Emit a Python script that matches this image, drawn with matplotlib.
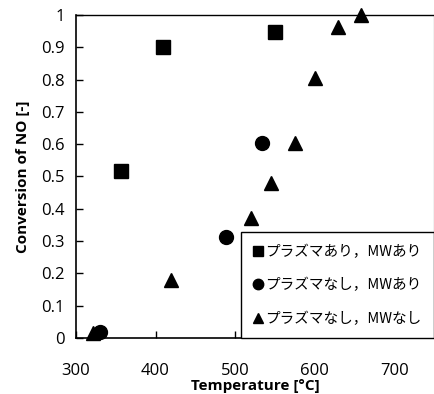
import matplotlib

matplotlib.use("Agg")
import matplotlib.pyplot as plt

# plasma on, MW on
sq_x = [357, 409, 550]
sq_y = [0.517, 0.90, 0.947]
# plasma off, MW on
ci_x = [330, 489, 534]
ci_y = [0.02, 0.313, 0.604]
# plasma off, MW off
tr_x = [321, 420, 520, 545, 575, 600, 629, 658]
tr_y = [0.015, 0.18, 0.372, 0.48, 0.603, 0.805, 0.963, 1.0]

labels = ["プラズマあり，MWあり", "プラズマなし，MWあり", "プラズマなし，MWなし"]

TICK_FONT = "Open Sans"
JP_FONT = ["Noto Sans CJK JP", "DejaVu Sans"]

fig = plt.figure(figsize=(4.35, 3.94), dpi=100)
ax = fig.add_axes([0.1747, 0.1421, 0.823, 0.82])

ax.plot(sq_x, sq_y, "s", color="black", ms=10, clip_on=False, zorder=3, label=labels[0])
ax.plot(ci_x, ci_y, "o", color="black", ms=10, clip_on=False, zorder=3, label=labels[1])
ax.plot(tr_x, tr_y, "^", color="black", ms=10, clip_on=False, zorder=3, label=labels[2])

ax.set_xlim(300, 750)
ax.set_ylim(0, 1)
ax.set_xticks([300, 400, 500, 600, 700])
ax.set_yticks([i / 10 for i in range(11)])
ax.set_yticklabels(["0"] + [f"{i / 10:.1f}" for i in range(1, 10)] + ["1"])
ax.tick_params(direction="in", length=5, width=1, labelsize=12, pad=8)
for lab in ax.get_xticklabels() + ax.get_yticklabels():
    lab.set_family(TICK_FONT)
ax.tick_params(axis="x", pad=18)
for sp in ax.spines.values():
    sp.set_linewidth(1.2)
ax.spines["right"].set_linewidth(0.8)
ax.spines["top"].set_linewidth(1.0)

ax.set_xlabel("Temperature [°C]", fontsize=11, fontweight="bold", family=TICK_FONT, labelpad=0)
ax.set_ylabel("Conversion of NO [-]", fontsize=11, fontweight="bold", family=TICK_FONT, labelpad=8)

leg = ax.legend(
    loc="lower right",
    bbox_to_anchor=(1.0, 0.0),
    borderaxespad=0,
    frameon=True,
    fancybox=False,
    edgecolor="black",
    framealpha=1,
    prop={"family": JP_FONT, "size": 10.5},
    handlelength=0.7,
    handletextpad=0.15,
    labelspacing=1.3,
    borderpad=0.85,
    markerscale=0.75,
)
leg.get_frame().set_linewidth(1.0)
leg.set_zorder(5)

fig.savefig("out.png", dpi=100)
